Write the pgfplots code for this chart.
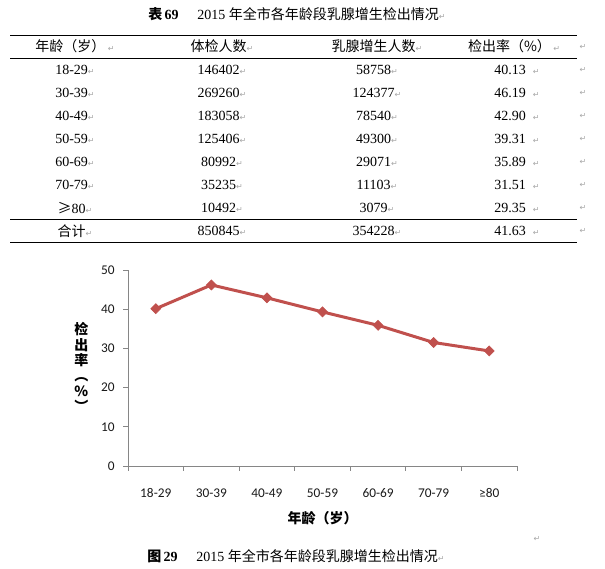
\documentclass[border=0pt]{standalone}
\usepackage{fontspec}
\setmainfont{Liberation Serif}
\newfontfamily\cjk{Noto Sans CJK SC}
\newfontfamily\calibri{Carlito}
\newfontfamily\dv{DejaVu Sans}
\usepackage{graphicx}
\usepackage{pgfplots}
\pgfplotsset{compat=1.18}

\definecolor{exred}{HTML}{C0504D}
\definecolor{axgray}{HTML}{868686}
\definecolor{pmark}{HTML}{A6A6A6}
% Word paragraph mark
\newcommand{\rt}{{\dv\fontsize{6}{6}\selectfont\textcolor{pmark}{↵}}}

\pgfplotstableread{
x rate
0 40.13
1 46.19
2 42.90
3 39.31
4 35.89
5 31.51
6 29.35
}\ratetab

\begin{document}
\begin{tikzpicture}
% pixel grid of the page: 1px = 0.75pt, y grows downward
\begin{scope}[x=0.75pt,y=-0.75pt,
  cell/.style={inner sep=0pt,anchor=center,font=\fontsize{10.5}{12}\selectfont}]
  \path[use as bounding box] (0,0) rectangle (605,568);

  % table title
  \node[cell] at (297,14) {{\cjk\bfseries 表}\,\textbf{69}\hspace{14pt}2015 {\cjk 年全市各年龄段乳腺增生检出情况}\rt};

  % rules
  \draw[line width=0.75pt] (10,35) -- (577,35);
  \draw[line width=0.75pt] (10,58) -- (577,58);
  \draw[line width=0.75pt] (10,219.5) -- (577,219.5);
  \draw[line width=0.75pt] (10,242) -- (577,242);

  % header
  \node[cell] at (75,46.5) {{\cjk 年龄（岁）}\,\rt};
  \node[cell] at (222,46.5) {{\cjk 体检人数}\rt};
  \node[cell] at (377,46.5) {{\cjk 乳腺增生人数}\rt};
  \node[cell] at (514,46.5) {{\cjk 检出率（\%）}\,\rt};
  \node[cell] at (583,46.5) {\rt};

  % body
  \foreach \a/\b/\c/\d [count=\i from 0] in {
      18-29/146402/58758/40.13,
      30-39/269260/124377/46.19,
      40-49/183058/78540/42.90,
      50-59/125406/49300/39.31,
      60-69/80992/29071/35.89,
      70-79/35235/11103/31.51,
      {{\cjk ≥}80}/10492/3079/29.35}{
    \node[cell] at (75,70+23*\i) {\a\rt};
    \node[cell] at (222,70+23*\i) {\b\rt};
    \node[cell] at (377,70+23*\i) {\c\rt};
    \node[cell] at (517,70+23*\i) {\d\ \ \rt};
    \node[cell] at (583,70+23*\i) {\rt};
  }
  \node[cell] at (75,231) {{\cjk 合计}\rt};
  \node[cell] at (222,231) {850845\rt};
  \node[cell] at (377,231) {354228\rt};
  \node[cell] at (517,231) {41.63\ \ \rt};
  \node[cell] at (583,231) {\rt};

  % chart paragraph mark and caption
  \node[cell] at (537,539) {\rt};
  \node[cell] at (296,556) {{\cjk\bfseries 图}\,\textbf{29}\hspace{14pt}2015 {\cjk 年全市各年龄段乳腺增生检出情况}\rt};
\end{scope}

\begin{axis}[
  at={(96pt,-349.5pt)}, anchor=south west,
  scale only axis, width=291.75pt, height=147pt,
  xmin=-0.5, xmax=6.5, ymin=0, ymax=50,
  axis x line*=bottom, axis y line*=left,
  axis line style={axgray,line width=0.75pt,-},
  tick align=outside,
  xtick={0,...,6},
  xticklabels={18-29,30-39,40-49,50-59,60-69,70-79,≥80},
  major x tick style={draw=none},
  minor xtick={-0.5,0.5,...,6.5},
  minor x tick style={axgray,line width=0.75pt},
  minor tick length=3.5pt,
  ytick={0,10,...,50},
  major y tick style={axgray,line width=0.75pt},
  major tick length=3.5pt,
  tick label style={font=\calibri\fontsize{10}{12}\selectfont,text=black!90},
  /pgf/number format/assume math mode=true,
  xticklabel style={yshift=-10pt},
  yticklabel style={xshift=-3pt},
  xlabel={年龄（岁）},
  xlabel style={font=\cjk\bfseries\fontsize{10.5}{12}\selectfont,
    at={(rel axis cs:0.5,0)}, anchor=center, yshift=-39pt},
  ylabel={检\\出\\率\\\rotatebox[origin=c]{-90}{（}\\\%\\\rotatebox[origin=c]{-90}{）}},
  ylabel style={font=\cjk\bfseries\fontsize{10.5}{11.6}\selectfont,
    align=center, rotate=-90, at={(rel axis cs:0,0.5)}, anchor=center, xshift=-35pt},
  clip=false,
]
  \addplot[exred, line width=2.25pt, mark=square*,
    mark options={rotate=45, exred, line width=0.5pt}, mark size=2.65pt]
    table[x=x,y=rate] {\ratetab};
\end{axis}
\end{tikzpicture}
\end{document}
